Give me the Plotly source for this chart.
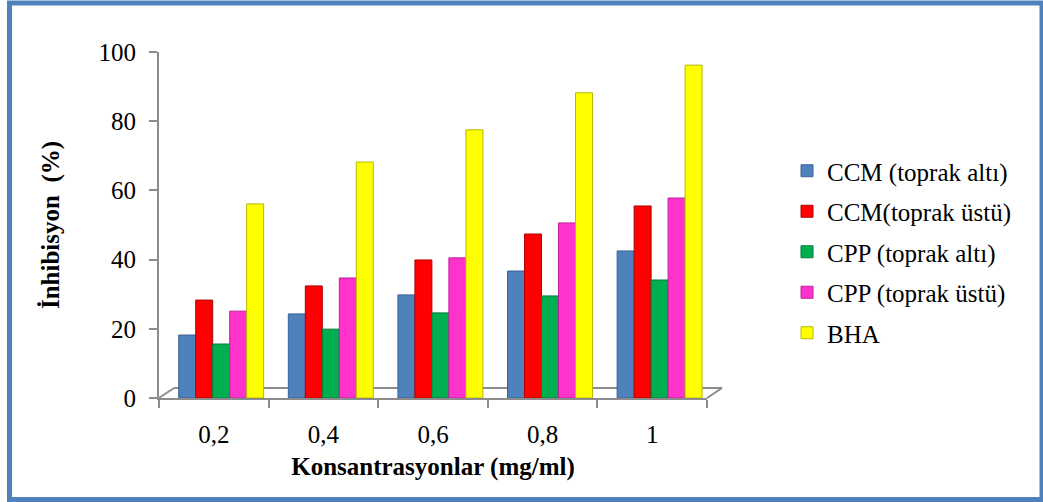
import plotly.graph_objects as go

# Concentration categories (mg/ml) and inhibition (%) for each extract
concentrations = ["0,2", "0,4", "0,6", "0,8", "1"]
ccm_toprak_alti = [18.2, 24.3, 29.8, 36.7, 42.5]
ccm_toprak_ustu = [28.3, 32.4, 39.9, 47.4, 55.5]
cpp_toprak_alti = [15.6, 19.9, 24.6, 29.5, 34.1]
cpp_toprak_ustu = [25.1, 34.7, 40.5, 50.6, 57.8]
bha = [56.1, 68.2, 77.5, 88.2, 96.2]

series_names = [
    "CCM (toprak altı)",
    "CCM(toprak üstü)",
    "CPP (toprak altı)",
    "CPP (toprak üstü)",
    "BHA",
]
series_values = [ccm_toprak_alti, ccm_toprak_ustu, cpp_toprak_alti, cpp_toprak_ustu, bha]
fill_colors = ["#4F81BD", "#FF0000", "#00B050", "#FF33CC", "#FFFF00"]
edge_colors = ["#3A6296", "#B00000", "#007A38", "#C0209A", "#B8B800"]
y_ticks = [0, 20, 40, 60, 80, 100]

W, H = 1043, 502
# plot area in pixels
PL, PR, PT, PB = 159, 707, 52, 398

def px_x(x):
    return (x - PL) / (PR - PL)

def px_y(y):
    return (PB - y) / (PB - PT)

FONT = "Liberation Serif"
bar_w = 0.155
group_start = -0.32

fig = go.Figure()
for i, (name, vals) in enumerate(zip(series_names, series_values)):
    fig.add_trace(go.Bar(
        x=concentrations,
        y=vals,
        name=name,
        width=bar_w,
        offset=group_start + i * bar_w,
        marker=dict(color=fill_colors[i], line=dict(color=edge_colors[i], width=1)),
        legendgroup=name,
    ))

grey = "#8C8C8C"
shapes = [
    # floor of the 3-D box
    dict(type="line", xref="paper", yref="paper",
         x0=px_x(174), y0=px_y(388), x1=px_x(722), y1=px_y(388),
         line=dict(color=grey, width=2), layer="below"),
    dict(type="line", xref="paper", yref="paper",
         x0=px_x(159), y0=px_y(398), x1=px_x(174), y1=px_y(388),
         line=dict(color=grey, width=2), layer="below"),
    dict(type="line", xref="paper", yref="paper",
         x0=px_x(707), y0=px_y(398), x1=px_x(722), y1=px_y(388),
         line=dict(color=grey, width=2), layer="below"),
    # chart frame
    dict(type="rect", xref="paper", yref="paper",
         x0=px_x(9.5), y0=px_y(3), x1=px_x(1042), y1=px_y(499.5),
         line=dict(color="#4F81BD", width=5)),
]

fig.update_layout(
    width=W, height=H,
    margin=dict(l=PL, r=W - PR, t=PT, b=H - PB, pad=0),
    paper_bgcolor="white", plot_bgcolor="white",
    barmode="overlay",
    font=dict(family=FONT, color="black", size=25),
    showlegend=True,
    legend=dict(
        x=px_x(787), y=px_y(148), xanchor="left", yanchor="top",
        font=dict(family=FONT, size=25, color="black"),
        tracegroupgap=5, bgcolor="rgba(0,0,0,0)",
    ),
    shapes=shapes,
    xaxis=dict(
        type="category",
        showgrid=False, zeroline=False,
        showline=True, linecolor=grey, linewidth=2,
        ticks="outside", tickson="boundaries", ticklen=8, tickwidth=2, tickcolor=grey,
        tickfont=dict(family=FONT, size=25, color="black"),
        ticklabelstandoff=13,
        title=dict(text="<b>Konsantrasyonlar (mg/ml)</b>",
                   font=dict(family=FONT, size=25, color="black"), standoff=10),
    ),
    yaxis=dict(
        range=[0, 100],
        tickvals=y_ticks,
        showgrid=False, zeroline=False,
        showline=True, linecolor=grey, linewidth=2,
        ticks="outside", ticklen=8, tickwidth=2, tickcolor=grey,
        tickfont=dict(family=FONT, size=25, color="black"),
        ticklabelstandoff=8,
        title=dict(text="<b>İnhibisyon  (%)</b>",
                   font=dict(family=FONT, size=25, color="black"), standoff=32),
    ),
)

fig.write_html("out.html")
